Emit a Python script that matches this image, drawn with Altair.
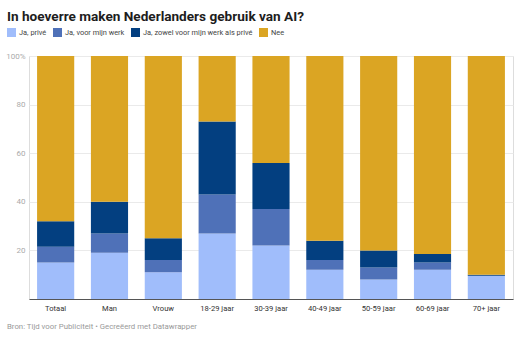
import altair as alt
import pandas as pd

groups = ["Totaal", "Man", "Vrouw", "18-29 jaar", "30-39 jaar", "40-49 jaar", "50-59 jaar", "60-69 jaar", "70+ jaar"]
series = ["Ja, privé", "Ja, voor mijn werk", "Ja, zowel voor mijn werk als privé", "Nee"]
prive = [15, 19, 11, 27, 22, 12, 8, 12, 9.5]
werk = [6.5, 8, 5, 16, 15, 4, 5, 3, 0.1]
beide = [10.5, 13, 9, 30, 19, 8, 7, 3.5, 0.4]
nee = [68, 60, 75, 27, 44, 76, 80, 81.5, 90]
colors = ["#a0bdfb", "#4f71b8", "#033f80", "#dba523"]

title = "In hoeverre maken Nederlanders gebruik van AI?"
footer = "Bron: Tijd voor Publiciteit • Gecreëerd met Datawrapper"

rows = []
for i, g in enumerate(groups):
    for j, (s, vals) in enumerate(zip(series, [prive, werk, beide, nee])):
        rows.append({"groep": g, "serie": s, "waarde": vals[i], "o": j})
df = pd.DataFrame(rows)

W, H = 484, 243

bars = alt.Chart(df).mark_bar().encode(
    x=alt.X("groep:N", sort=groups, title=None,
            scale=alt.Scale(paddingInner=0.31, paddingOuter=0.15),
            axis=alt.Axis(labelAngle=0, labelColor="#333333", labelFontSize=7.6,
                          labelFont="Roboto", ticks=False, domainColor="#555555",
                          domainWidth=1, labelPadding=5, grid=False)),
    y=alt.Y("waarde:Q", stack="zero", title=None,
            scale=alt.Scale(domain=[0, 100], nice=False),
            axis=alt.Axis(values=[0, 20, 40, 60, 80, 100],
                          labelExpr="datum.value == 100 ? '100%' : (datum.value == 0 ? '' : datum.label)",
                          labelColor="#aaaaaa", labelFontSize=8, labelFont="Roboto",
                          ticks=False, domain=False, labelPadding=4,
                          gridColor="#eaeaea", gridWidth=1)),
    color=alt.Color("serie:N", sort=series,
                    scale=alt.Scale(domain=series, range=colors),
                    legend=alt.Legend(title=None, orient="none", direction="horizontal",
                                      legendX=-22, legendY=-28, symbolType="square",
                                      symbolSize=81, symbolStrokeWidth=0, symbolOpacity=1,
                                      labelFont="Roboto", labelFontSize=7.4,
                                      labelColor="#444444", columnPadding=6,
                                      labelOffset=3, columns=4)),
    order=alt.Order("o:Q", sort="ascending"),
)

foot = alt.Chart(pd.DataFrame({"t": [footer]})).mark_text(
    align="left", baseline="middle", font="Roboto", fontSize=7.8, color="#999999"
).encode(text="t:N", x=alt.value(-22), y=alt.value(H + 28))

chart = alt.layer(bars, foot).properties(
    width=W, height=H,
    title=alt.TitleParams(title, anchor="start", frame="group", dx=-22, font="Roboto",
                          fontSize=13.6, fontWeight="bold", color="#1d1d1d", offset=4),
    autosize=alt.AutoSizeParams(type="none"),
    padding={"left": 29, "top": 56, "right": 7, "bottom": 42},
).configure_view(stroke=None).configure(background="white")

chart.save("out.html", embed_options={"renderer": "svg", "actions": False})
